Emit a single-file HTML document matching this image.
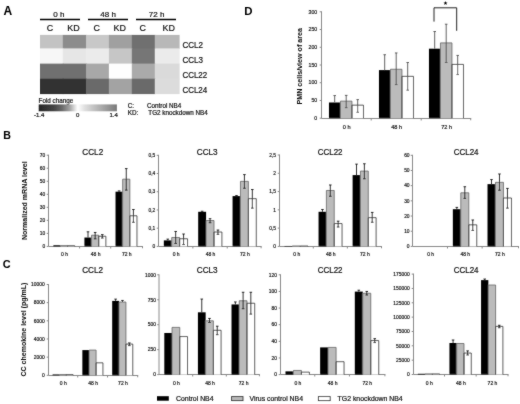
<!DOCTYPE html>
<html><head><meta charset="utf-8"><title>Figure</title>
<style>html,body{margin:0;padding:0;background:#fff;width:520px;height:404px;overflow:hidden;font-family:"Liberation Sans", sans-serif;}</style>
</head><body><div id="wrap" style="position:absolute;left:0;top:0;width:520px;height:404px;filter:grayscale(1)">
<svg width="520" height="404" viewBox="0 0 520 404" style="display:block" font-family='"Liberation Sans", sans-serif'>
<defs><filter id="bl" x="0" y="0" width="520" height="404" filterUnits="userSpaceOnUse"><feConvolveMatrix order="3" kernelMatrix="0.0250 0.0500 0.0250 0.0500 0.7000 0.0500 0.0250 0.0500 0.0250" divisor="1" edgeMode="duplicate" preserveAlpha="false"/></filter></defs>
<rect width="520" height="404" fill="#fff"/>
<g filter="url(#bl)">
<rect x="40.00" y="34.90" width="23.40" height="14.10" fill="#c3c3c3"/>
<rect x="62.80" y="34.90" width="23.90" height="14.10" fill="#8c8c8c"/>
<rect x="86.10" y="34.90" width="23.40" height="14.10" fill="#c8c8c8"/>
<rect x="108.90" y="34.90" width="23.50" height="14.10" fill="#a0a0a0"/>
<rect x="131.80" y="34.90" width="23.60" height="14.10" fill="#707070"/>
<rect x="154.80" y="34.90" width="24.80" height="14.10" fill="#b8b8b8"/>
<rect x="40.00" y="48.40" width="23.40" height="15.80" fill="#f7f7f7"/>
<rect x="62.80" y="48.40" width="23.90" height="15.80" fill="#e6e6e6"/>
<rect x="86.10" y="48.40" width="23.40" height="15.80" fill="#ebebeb"/>
<rect x="108.90" y="48.40" width="23.50" height="15.80" fill="#c6c6c6"/>
<rect x="131.80" y="48.40" width="23.60" height="15.80" fill="#767676"/>
<rect x="154.80" y="48.40" width="24.80" height="15.80" fill="#ebebeb"/>
<rect x="40.00" y="63.60" width="23.40" height="15.70" fill="#707070"/>
<rect x="62.80" y="63.60" width="23.90" height="15.70" fill="#707070"/>
<rect x="86.10" y="63.60" width="23.40" height="15.70" fill="#a8a8a8"/>
<rect x="108.90" y="63.60" width="23.50" height="15.70" fill="#fefefe"/>
<rect x="131.80" y="63.60" width="23.60" height="15.70" fill="#aaaaaa"/>
<rect x="154.80" y="63.60" width="24.80" height="15.70" fill="#dadada"/>
<rect x="40.00" y="78.70" width="23.40" height="15.40" fill="#333333"/>
<rect x="62.80" y="78.70" width="23.90" height="15.40" fill="#333333"/>
<rect x="86.10" y="78.70" width="23.40" height="15.40" fill="#6a6a6a"/>
<rect x="108.90" y="78.70" width="23.50" height="15.40" fill="#a3a3a3"/>
<rect x="131.80" y="78.70" width="23.60" height="15.40" fill="#6a6a6a"/>
<rect x="154.80" y="78.70" width="24.80" height="15.40" fill="#dcdcdc"/>
<line x1="40.00" y1="19.50" x2="80.00" y2="19.50" stroke="#000" stroke-width="1.4"/>
<line x1="88.00" y1="19.50" x2="128.00" y2="19.50" stroke="#000" stroke-width="1.4"/>
<line x1="136.00" y1="19.50" x2="176.00" y2="19.50" stroke="#000" stroke-width="1.4"/>
<text x="58.85" y="16.50" font-size="8.0" text-anchor="middle" font-weight="normal" fill="#111" stroke="#111" stroke-width="0.2" >0 h</text>
<text x="108.10" y="16.50" font-size="8.0" text-anchor="middle" font-weight="normal" fill="#111" stroke="#111" stroke-width="0.2" >48 h</text>
<text x="156.65" y="16.50" font-size="8.0" text-anchor="middle" font-weight="normal" fill="#111" stroke="#111" stroke-width="0.2" >72 h</text>
<text x="50.00" y="31.40" font-size="8.9" text-anchor="middle" font-weight="normal" fill="#111" stroke="#111" stroke-width="0.2" >C</text>
<text x="73.50" y="31.40" font-size="8.9" text-anchor="middle" font-weight="normal" fill="#111" stroke="#111" stroke-width="0.2" >KD</text>
<text x="96.60" y="31.40" font-size="8.9" text-anchor="middle" font-weight="normal" fill="#111" stroke="#111" stroke-width="0.2" >C</text>
<text x="119.70" y="31.40" font-size="8.9" text-anchor="middle" font-weight="normal" fill="#111" stroke="#111" stroke-width="0.2" >KD</text>
<text x="142.75" y="31.40" font-size="8.9" text-anchor="middle" font-weight="normal" fill="#111" stroke="#111" stroke-width="0.2" >C</text>
<text x="168.65" y="31.40" font-size="8.9" text-anchor="middle" font-weight="normal" fill="#111" stroke="#111" stroke-width="0.2" >KD</text>
<text x="182.40" y="47.80" font-size="8.3" text-anchor="start" font-weight="normal" fill="#111" stroke="#111" stroke-width="0.2" textLength="20.6" lengthAdjust="spacingAndGlyphs">CCL2</text>
<text x="182.40" y="62.80" font-size="8.3" text-anchor="start" font-weight="normal" fill="#111" stroke="#111" stroke-width="0.2" textLength="20.6" lengthAdjust="spacingAndGlyphs">CCL3</text>
<text x="182.40" y="77.90" font-size="8.3" text-anchor="start" font-weight="normal" fill="#111" stroke="#111" stroke-width="0.2" textLength="24.8" lengthAdjust="spacingAndGlyphs">CCL22</text>
<text x="182.40" y="92.80" font-size="8.3" text-anchor="start" font-weight="normal" fill="#111" stroke="#111" stroke-width="0.2" textLength="24.8" lengthAdjust="spacingAndGlyphs">CCL24</text>
<text x="38.60" y="102.70" font-size="6.3" text-anchor="start" font-weight="normal" fill="#111" stroke="#111" stroke-width="0.2" >Fold change</text>
<defs><linearGradient id="fc" x1="0" x2="1" y1="0" y2="0"><stop offset="0" stop-color="#262626"/><stop offset="0.2" stop-color="#454545"/><stop offset="0.3" stop-color="#6a6a6a"/><stop offset="0.4" stop-color="#a5a5a5"/><stop offset="0.47" stop-color="#e6e6e6"/><stop offset="0.5" stop-color="#ffffff"/><stop offset="0.58" stop-color="#e2e2e2"/><stop offset="0.68" stop-color="#c8c8c8"/><stop offset="0.78" stop-color="#b0b0b0"/><stop offset="0.88" stop-color="#989898"/><stop offset="1" stop-color="#7a7a7a"/></linearGradient></defs>
<rect x="38.7" y="104.4" width="78.2" height="6.9" fill="url(#fc)"/>
<text x="39.20" y="117.40" font-size="6.0" text-anchor="middle" font-weight="normal" fill="#111" stroke="#111" stroke-width="0.2" >-1.4</text>
<text x="77.70" y="117.40" font-size="6.0" text-anchor="middle" font-weight="normal" fill="#111" stroke="#111" stroke-width="0.2" >0</text>
<text x="113.70" y="117.40" font-size="6.0" text-anchor="middle" font-weight="normal" fill="#111" stroke="#111" stroke-width="0.2" >1.4</text>
<text x="127.80" y="107.60" font-size="6.3" text-anchor="start" font-weight="normal" fill="#111" stroke="#111" stroke-width="0.2" >C:</text>
<text x="127.80" y="114.60" font-size="6.3" text-anchor="start" font-weight="normal" fill="#111" stroke="#111" stroke-width="0.2" >KD:</text>
<text x="147.00" y="107.60" font-size="6.3" text-anchor="start" font-weight="normal" fill="#111" stroke="#111" stroke-width="0.2" >Control NB4</text>
<text x="148.30" y="114.60" font-size="6.3" text-anchor="start" font-weight="normal" fill="#111" stroke="#111" stroke-width="0.2" >TG2 knockdown NB4</text>
<text x="3.60" y="14.60" font-size="12.0" text-anchor="start" font-weight="bold" fill="#000" stroke="#000" stroke-width="0.05" >A</text>
<text x="244.20" y="15.00" font-size="11.4" text-anchor="start" font-weight="bold" fill="#000" stroke="#000" stroke-width="0.05" >D</text>
<text x="3.20" y="138.70" font-size="10.6" text-anchor="start" font-weight="bold" fill="#000" stroke="#000" stroke-width="0.05" >B</text>
<text x="2.70" y="268.20" font-size="10.9" text-anchor="start" font-weight="bold" fill="#000" stroke="#000" stroke-width="0.05" >C</text>
<text x="92.75" y="154.80" font-size="8.4" text-anchor="middle" font-weight="normal" fill="#111" stroke="#111" stroke-width="0.2" textLength="20.9" lengthAdjust="spacingAndGlyphs">CCL2</text>
<text x="207.20" y="154.80" font-size="8.4" text-anchor="middle" font-weight="normal" fill="#111" stroke="#111" stroke-width="0.2" textLength="20.9" lengthAdjust="spacingAndGlyphs">CCL3</text>
<text x="330.10" y="154.80" font-size="8.4" text-anchor="middle" font-weight="normal" fill="#111" stroke="#111" stroke-width="0.2" textLength="24.9" lengthAdjust="spacingAndGlyphs">CCL22</text>
<text x="466.10" y="154.80" font-size="8.4" text-anchor="middle" font-weight="normal" fill="#111" stroke="#111" stroke-width="0.2" textLength="24.9" lengthAdjust="spacingAndGlyphs">CCL24</text>
<text x="92.60" y="272.60" font-size="8.4" text-anchor="middle" font-weight="normal" fill="#111" stroke="#111" stroke-width="0.2" textLength="20.9" lengthAdjust="spacingAndGlyphs">CCL2</text>
<text x="207.20" y="272.60" font-size="8.4" text-anchor="middle" font-weight="normal" fill="#111" stroke="#111" stroke-width="0.2" textLength="20.9" lengthAdjust="spacingAndGlyphs">CCL3</text>
<text x="330.10" y="272.60" font-size="8.4" text-anchor="middle" font-weight="normal" fill="#111" stroke="#111" stroke-width="0.2" textLength="24.9" lengthAdjust="spacingAndGlyphs">CCL22</text>
<text x="466.10" y="272.60" font-size="8.4" text-anchor="middle" font-weight="normal" fill="#111" stroke="#111" stroke-width="0.2" textLength="24.9" lengthAdjust="spacingAndGlyphs">CCL24</text>
<line x1="48.50" y1="154.70" x2="48.50" y2="246.50" stroke="#8a8a8a" stroke-width="1"/>
<line x1="48.50" y1="246.50" x2="143.00" y2="246.50" stroke="#8a8a8a" stroke-width="1"/>
<line x1="46.70" y1="246.40" x2="48.50" y2="246.40" stroke="#8a8a8a" stroke-width="1"/>
<text x="45.30" y="248.15" font-size="4.9" text-anchor="end" font-weight="normal" fill="#222" stroke="#222" stroke-width="0.2" >0</text>
<line x1="46.70" y1="233.37" x2="48.50" y2="233.37" stroke="#8a8a8a" stroke-width="1"/>
<text x="45.30" y="235.12" font-size="4.9" text-anchor="end" font-weight="normal" fill="#222" stroke="#222" stroke-width="0.2" >10</text>
<line x1="46.70" y1="220.34" x2="48.50" y2="220.34" stroke="#8a8a8a" stroke-width="1"/>
<text x="45.30" y="222.09" font-size="4.9" text-anchor="end" font-weight="normal" fill="#222" stroke="#222" stroke-width="0.2" >20</text>
<line x1="46.70" y1="207.31" x2="48.50" y2="207.31" stroke="#8a8a8a" stroke-width="1"/>
<text x="45.30" y="209.06" font-size="4.9" text-anchor="end" font-weight="normal" fill="#222" stroke="#222" stroke-width="0.2" >30</text>
<line x1="46.70" y1="194.29" x2="48.50" y2="194.29" stroke="#8a8a8a" stroke-width="1"/>
<text x="45.30" y="196.04" font-size="4.9" text-anchor="end" font-weight="normal" fill="#222" stroke="#222" stroke-width="0.2" >40</text>
<line x1="46.70" y1="181.26" x2="48.50" y2="181.26" stroke="#8a8a8a" stroke-width="1"/>
<text x="45.30" y="183.01" font-size="4.9" text-anchor="end" font-weight="normal" fill="#222" stroke="#222" stroke-width="0.2" >50</text>
<line x1="46.70" y1="168.23" x2="48.50" y2="168.23" stroke="#8a8a8a" stroke-width="1"/>
<text x="45.30" y="169.98" font-size="4.9" text-anchor="end" font-weight="normal" fill="#222" stroke="#222" stroke-width="0.2" >60</text>
<line x1="46.70" y1="155.20" x2="48.50" y2="155.20" stroke="#8a8a8a" stroke-width="1"/>
<text x="45.30" y="156.95" font-size="4.9" text-anchor="end" font-weight="normal" fill="#222" stroke="#222" stroke-width="0.2" >70</text>
<line x1="79.60" y1="246.50" x2="79.60" y2="248.50" stroke="#8a8a8a" stroke-width="1"/>
<line x1="110.70" y1="246.50" x2="110.70" y2="248.50" stroke="#8a8a8a" stroke-width="1"/>
<line x1="142.50" y1="246.50" x2="142.50" y2="248.30" stroke="#8a8a8a" stroke-width="1"/>
<text x="64.55" y="255.90" font-size="5.0" text-anchor="middle" font-weight="normal" fill="#222" stroke="#222" stroke-width="0.2" >0 h</text>
<rect x="53.32" y="245.23" width="7.15" height="1.17" fill="#000"/>
<rect x="60.47" y="245.62" width="7.15" height="0.78" fill="#bbbbbb"/>
<rect x="67.63" y="245.75" width="7.15" height="0.65" fill="#fff"/>
<path d="M60.47,246.40V245.62H67.63V246.40" fill="none" stroke="#6a6a6a" stroke-width="0.85"/>
<path d="M67.63,246.40V245.75H74.78V246.40" fill="none" stroke="#333" stroke-width="0.85"/>
<text x="95.65" y="255.90" font-size="5.0" text-anchor="middle" font-weight="normal" fill="#222" stroke="#222" stroke-width="0.2" >48 h</text>
<rect x="84.42" y="237.54" width="7.15" height="8.86" fill="#000"/>
<rect x="91.57" y="235.20" width="7.15" height="11.20" fill="#bbbbbb"/>
<rect x="98.73" y="236.24" width="7.15" height="10.16" fill="#fff"/>
<path d="M91.57,246.40V235.20H98.73V246.40" fill="none" stroke="#6a6a6a" stroke-width="0.85"/>
<path d="M98.73,246.40V236.24H105.88V246.40" fill="none" stroke="#333" stroke-width="0.85"/>
<line x1="88.00" y1="231.81" x2="88.00" y2="237.54" stroke="#000" stroke-width="0.8"/>
<line x1="86.70" y1="231.81" x2="89.30" y2="231.81" stroke="#000" stroke-width="0.8"/>
<line x1="95.15" y1="232.46" x2="95.15" y2="238.84" stroke="#000" stroke-width="0.8"/>
<line x1="93.85" y1="232.46" x2="96.45" y2="232.46" stroke="#000" stroke-width="0.8"/>
<line x1="93.85" y1="238.84" x2="96.45" y2="238.84" stroke="#000" stroke-width="0.8"/>
<line x1="102.30" y1="234.67" x2="102.30" y2="238.06" stroke="#000" stroke-width="0.8"/>
<line x1="101.00" y1="234.67" x2="103.60" y2="234.67" stroke="#000" stroke-width="0.8"/>
<line x1="101.00" y1="238.06" x2="103.60" y2="238.06" stroke="#000" stroke-width="0.8"/>
<text x="126.75" y="255.90" font-size="5.0" text-anchor="middle" font-weight="normal" fill="#222" stroke="#222" stroke-width="0.2" >72 h</text>
<rect x="115.52" y="191.68" width="7.15" height="54.72" fill="#000"/>
<rect x="122.67" y="179.17" width="7.15" height="67.23" fill="#bbbbbb"/>
<rect x="129.83" y="215.78" width="7.15" height="30.62" fill="#fff"/>
<path d="M122.67,246.40V179.17H129.83V246.40" fill="none" stroke="#6a6a6a" stroke-width="0.85"/>
<path d="M129.83,246.40V215.78H136.98V246.40" fill="none" stroke="#333" stroke-width="0.85"/>
<line x1="119.10" y1="190.90" x2="119.10" y2="191.68" stroke="#000" stroke-width="0.8"/>
<line x1="117.80" y1="190.90" x2="120.40" y2="190.90" stroke="#000" stroke-width="0.8"/>
<line x1="126.25" y1="168.62" x2="126.25" y2="190.12" stroke="#000" stroke-width="0.8"/>
<line x1="124.95" y1="168.62" x2="127.55" y2="168.62" stroke="#000" stroke-width="0.8"/>
<line x1="124.95" y1="190.12" x2="127.55" y2="190.12" stroke="#000" stroke-width="0.8"/>
<line x1="133.40" y1="209.53" x2="133.40" y2="222.30" stroke="#000" stroke-width="0.8"/>
<line x1="132.10" y1="209.53" x2="134.70" y2="209.53" stroke="#000" stroke-width="0.8"/>
<line x1="132.10" y1="222.30" x2="134.70" y2="222.30" stroke="#000" stroke-width="0.8"/>
<line x1="158.50" y1="154.80" x2="158.50" y2="246.50" stroke="#8a8a8a" stroke-width="1"/>
<line x1="158.50" y1="246.50" x2="261.60" y2="246.50" stroke="#8a8a8a" stroke-width="1"/>
<line x1="156.70" y1="246.40" x2="158.50" y2="246.40" stroke="#8a8a8a" stroke-width="1"/>
<text x="155.30" y="248.15" font-size="4.9" text-anchor="end" font-weight="normal" fill="#222" stroke="#222" stroke-width="0.2" >0</text>
<line x1="156.70" y1="228.18" x2="158.50" y2="228.18" stroke="#8a8a8a" stroke-width="1"/>
<text x="155.30" y="229.93" font-size="4.9" text-anchor="end" font-weight="normal" fill="#222" stroke="#222" stroke-width="0.2" >0,1</text>
<line x1="156.70" y1="209.96" x2="158.50" y2="209.96" stroke="#8a8a8a" stroke-width="1"/>
<text x="155.30" y="211.71" font-size="4.9" text-anchor="end" font-weight="normal" fill="#222" stroke="#222" stroke-width="0.2" >0,2</text>
<line x1="156.70" y1="191.74" x2="158.50" y2="191.74" stroke="#8a8a8a" stroke-width="1"/>
<text x="155.30" y="193.49" font-size="4.9" text-anchor="end" font-weight="normal" fill="#222" stroke="#222" stroke-width="0.2" >0,3</text>
<line x1="156.70" y1="173.52" x2="158.50" y2="173.52" stroke="#8a8a8a" stroke-width="1"/>
<text x="155.30" y="175.27" font-size="4.9" text-anchor="end" font-weight="normal" fill="#222" stroke="#222" stroke-width="0.2" >0,4</text>
<line x1="156.70" y1="155.30" x2="158.50" y2="155.30" stroke="#8a8a8a" stroke-width="1"/>
<text x="155.30" y="157.05" font-size="4.9" text-anchor="end" font-weight="normal" fill="#222" stroke="#222" stroke-width="0.2" >0,5</text>
<line x1="192.87" y1="246.50" x2="192.87" y2="248.50" stroke="#8a8a8a" stroke-width="1"/>
<line x1="227.23" y1="246.50" x2="227.23" y2="248.50" stroke="#8a8a8a" stroke-width="1"/>
<line x1="261.10" y1="246.50" x2="261.10" y2="248.30" stroke="#8a8a8a" stroke-width="1"/>
<text x="176.18" y="255.90" font-size="5.0" text-anchor="middle" font-weight="normal" fill="#222" stroke="#222" stroke-width="0.2" >0 h</text>
<rect x="163.83" y="240.39" width="7.90" height="6.01" fill="#000"/>
<rect x="171.73" y="237.47" width="7.90" height="8.93" fill="#bbbbbb"/>
<rect x="179.64" y="238.75" width="7.90" height="7.65" fill="#fff"/>
<path d="M171.73,246.40V237.47H179.64V246.40" fill="none" stroke="#6a6a6a" stroke-width="0.85"/>
<path d="M179.64,246.40V238.75H187.54V246.40" fill="none" stroke="#333" stroke-width="0.85"/>
<line x1="167.78" y1="239.11" x2="167.78" y2="240.39" stroke="#000" stroke-width="0.8"/>
<line x1="166.48" y1="239.11" x2="169.08" y2="239.11" stroke="#000" stroke-width="0.8"/>
<line x1="175.68" y1="231.46" x2="175.68" y2="243.48" stroke="#000" stroke-width="0.8"/>
<line x1="174.38" y1="231.46" x2="176.98" y2="231.46" stroke="#000" stroke-width="0.8"/>
<line x1="174.38" y1="243.48" x2="176.98" y2="243.48" stroke="#000" stroke-width="0.8"/>
<line x1="183.59" y1="234.01" x2="183.59" y2="244.58" stroke="#000" stroke-width="0.8"/>
<line x1="182.29" y1="234.01" x2="184.89" y2="234.01" stroke="#000" stroke-width="0.8"/>
<line x1="182.29" y1="244.58" x2="184.89" y2="244.58" stroke="#000" stroke-width="0.8"/>
<text x="210.55" y="255.90" font-size="5.0" text-anchor="middle" font-weight="normal" fill="#222" stroke="#222" stroke-width="0.2" >48 h</text>
<rect x="198.19" y="211.78" width="7.90" height="34.62" fill="#000"/>
<rect x="206.10" y="220.53" width="7.90" height="25.87" fill="#bbbbbb"/>
<rect x="214.00" y="232.01" width="7.90" height="14.39" fill="#fff"/>
<path d="M206.10,246.40V220.53H214.00V246.40" fill="none" stroke="#6a6a6a" stroke-width="0.85"/>
<path d="M214.00,246.40V232.01H221.91V246.40" fill="none" stroke="#333" stroke-width="0.85"/>
<line x1="202.15" y1="211.24" x2="202.15" y2="211.78" stroke="#000" stroke-width="0.8"/>
<line x1="200.85" y1="211.24" x2="203.45" y2="211.24" stroke="#000" stroke-width="0.8"/>
<line x1="210.05" y1="218.71" x2="210.05" y2="222.71" stroke="#000" stroke-width="0.8"/>
<line x1="208.75" y1="218.71" x2="211.35" y2="218.71" stroke="#000" stroke-width="0.8"/>
<line x1="208.75" y1="222.71" x2="211.35" y2="222.71" stroke="#000" stroke-width="0.8"/>
<line x1="217.95" y1="230.00" x2="217.95" y2="234.37" stroke="#000" stroke-width="0.8"/>
<line x1="216.65" y1="230.00" x2="219.25" y2="230.00" stroke="#000" stroke-width="0.8"/>
<line x1="216.65" y1="234.37" x2="219.25" y2="234.37" stroke="#000" stroke-width="0.8"/>
<text x="244.92" y="255.90" font-size="5.0" text-anchor="middle" font-weight="normal" fill="#222" stroke="#222" stroke-width="0.2" >72 h</text>
<rect x="232.56" y="196.11" width="7.90" height="50.29" fill="#000"/>
<rect x="240.46" y="181.35" width="7.90" height="65.05" fill="#bbbbbb"/>
<rect x="248.37" y="198.66" width="7.90" height="47.74" fill="#fff"/>
<path d="M240.46,246.40V181.35H248.37V246.40" fill="none" stroke="#6a6a6a" stroke-width="0.85"/>
<path d="M248.37,246.40V198.66H256.27V246.40" fill="none" stroke="#333" stroke-width="0.85"/>
<line x1="236.51" y1="195.57" x2="236.51" y2="196.11" stroke="#000" stroke-width="0.8"/>
<line x1="235.21" y1="195.57" x2="237.81" y2="195.57" stroke="#000" stroke-width="0.8"/>
<line x1="244.42" y1="174.61" x2="244.42" y2="188.28" stroke="#000" stroke-width="0.8"/>
<line x1="243.12" y1="174.61" x2="245.72" y2="174.61" stroke="#000" stroke-width="0.8"/>
<line x1="243.12" y1="188.28" x2="245.72" y2="188.28" stroke="#000" stroke-width="0.8"/>
<line x1="252.32" y1="189.55" x2="252.32" y2="208.14" stroke="#000" stroke-width="0.8"/>
<line x1="251.02" y1="189.55" x2="253.62" y2="189.55" stroke="#000" stroke-width="0.8"/>
<line x1="251.02" y1="208.14" x2="253.62" y2="208.14" stroke="#000" stroke-width="0.8"/>
<line x1="279.50" y1="154.50" x2="279.50" y2="246.50" stroke="#8a8a8a" stroke-width="1"/>
<line x1="279.50" y1="246.50" x2="382.00" y2="246.50" stroke="#8a8a8a" stroke-width="1"/>
<line x1="277.70" y1="246.40" x2="279.50" y2="246.40" stroke="#8a8a8a" stroke-width="1"/>
<text x="276.00" y="248.15" font-size="4.9" text-anchor="end" font-weight="normal" fill="#222" stroke="#222" stroke-width="0.2" >0</text>
<line x1="277.70" y1="228.12" x2="279.50" y2="228.12" stroke="#8a8a8a" stroke-width="1"/>
<text x="276.00" y="229.87" font-size="4.9" text-anchor="end" font-weight="normal" fill="#222" stroke="#222" stroke-width="0.2" >0,5</text>
<line x1="277.70" y1="209.84" x2="279.50" y2="209.84" stroke="#8a8a8a" stroke-width="1"/>
<text x="276.00" y="211.59" font-size="4.9" text-anchor="end" font-weight="normal" fill="#222" stroke="#222" stroke-width="0.2" >1</text>
<line x1="277.70" y1="191.56" x2="279.50" y2="191.56" stroke="#8a8a8a" stroke-width="1"/>
<text x="276.00" y="193.31" font-size="4.9" text-anchor="end" font-weight="normal" fill="#222" stroke="#222" stroke-width="0.2" >1,5</text>
<line x1="277.70" y1="173.28" x2="279.50" y2="173.28" stroke="#8a8a8a" stroke-width="1"/>
<text x="276.00" y="175.03" font-size="4.9" text-anchor="end" font-weight="normal" fill="#222" stroke="#222" stroke-width="0.2" >2</text>
<line x1="277.70" y1="155.00" x2="279.50" y2="155.00" stroke="#8a8a8a" stroke-width="1"/>
<text x="276.00" y="156.75" font-size="4.9" text-anchor="end" font-weight="normal" fill="#222" stroke="#222" stroke-width="0.2" >2,5</text>
<line x1="313.27" y1="246.50" x2="313.27" y2="248.50" stroke="#8a8a8a" stroke-width="1"/>
<line x1="347.33" y1="246.50" x2="347.33" y2="248.50" stroke="#8a8a8a" stroke-width="1"/>
<line x1="381.50" y1="246.50" x2="381.50" y2="248.30" stroke="#8a8a8a" stroke-width="1"/>
<text x="296.73" y="255.90" font-size="5.0" text-anchor="middle" font-weight="normal" fill="#222" stroke="#222" stroke-width="0.2" >0 h</text>
<rect x="284.48" y="245.96" width="7.84" height="0.44" fill="#000"/>
<rect x="292.32" y="245.96" width="7.84" height="0.44" fill="#bbbbbb"/>
<rect x="300.15" y="246.03" width="7.84" height="0.37" fill="#fff"/>
<path d="M292.32,246.40V245.96H300.15V246.40" fill="none" stroke="#6a6a6a" stroke-width="0.85"/>
<path d="M300.15,246.40V246.03H307.99V246.40" fill="none" stroke="#333" stroke-width="0.85"/>
<text x="330.80" y="255.90" font-size="5.0" text-anchor="middle" font-weight="normal" fill="#222" stroke="#222" stroke-width="0.2" >48 h</text>
<rect x="318.55" y="211.78" width="7.84" height="34.62" fill="#000"/>
<rect x="326.38" y="190.46" width="7.84" height="55.94" fill="#bbbbbb"/>
<rect x="334.22" y="223.59" width="7.84" height="22.81" fill="#fff"/>
<path d="M326.38,246.40V190.46H334.22V246.40" fill="none" stroke="#6a6a6a" stroke-width="0.85"/>
<path d="M334.22,246.40V223.59H342.05V246.40" fill="none" stroke="#333" stroke-width="0.85"/>
<line x1="322.46" y1="209.47" x2="322.46" y2="211.78" stroke="#000" stroke-width="0.8"/>
<line x1="321.16" y1="209.47" x2="323.76" y2="209.47" stroke="#000" stroke-width="0.8"/>
<line x1="330.30" y1="184.98" x2="330.30" y2="196.31" stroke="#000" stroke-width="0.8"/>
<line x1="329.00" y1="184.98" x2="331.60" y2="184.98" stroke="#000" stroke-width="0.8"/>
<line x1="329.00" y1="196.31" x2="331.60" y2="196.31" stroke="#000" stroke-width="0.8"/>
<line x1="338.14" y1="221.17" x2="338.14" y2="227.02" stroke="#000" stroke-width="0.8"/>
<line x1="336.84" y1="221.17" x2="339.44" y2="221.17" stroke="#000" stroke-width="0.8"/>
<line x1="336.84" y1="227.02" x2="339.44" y2="227.02" stroke="#000" stroke-width="0.8"/>
<text x="364.87" y="255.90" font-size="5.0" text-anchor="middle" font-weight="normal" fill="#222" stroke="#222" stroke-width="0.2" >72 h</text>
<rect x="352.61" y="175.11" width="7.84" height="71.29" fill="#000"/>
<rect x="360.45" y="171.09" width="7.84" height="75.31" fill="#bbbbbb"/>
<rect x="368.28" y="217.66" width="7.84" height="28.74" fill="#fff"/>
<path d="M360.45,246.40V171.09H368.28V246.40" fill="none" stroke="#6a6a6a" stroke-width="0.85"/>
<path d="M368.28,246.40V217.66H376.12V246.40" fill="none" stroke="#333" stroke-width="0.85"/>
<line x1="356.53" y1="164.14" x2="356.53" y2="175.11" stroke="#000" stroke-width="0.8"/>
<line x1="355.23" y1="164.14" x2="357.83" y2="164.14" stroke="#000" stroke-width="0.8"/>
<line x1="364.37" y1="163.77" x2="364.37" y2="178.76" stroke="#000" stroke-width="0.8"/>
<line x1="363.07" y1="163.77" x2="365.67" y2="163.77" stroke="#000" stroke-width="0.8"/>
<line x1="363.07" y1="178.76" x2="365.67" y2="178.76" stroke="#000" stroke-width="0.8"/>
<line x1="372.20" y1="212.40" x2="372.20" y2="222.27" stroke="#000" stroke-width="0.8"/>
<line x1="370.90" y1="212.40" x2="373.50" y2="212.40" stroke="#000" stroke-width="0.8"/>
<line x1="370.90" y1="222.27" x2="373.50" y2="222.27" stroke="#000" stroke-width="0.8"/>
<line x1="412.50" y1="154.80" x2="412.50" y2="246.50" stroke="#8a8a8a" stroke-width="1"/>
<line x1="412.50" y1="246.50" x2="519.00" y2="246.50" stroke="#8a8a8a" stroke-width="1"/>
<line x1="410.70" y1="246.40" x2="412.50" y2="246.40" stroke="#8a8a8a" stroke-width="1"/>
<text x="409.60" y="248.15" font-size="4.9" text-anchor="end" font-weight="normal" fill="#222" stroke="#222" stroke-width="0.2" >0</text>
<line x1="410.70" y1="231.22" x2="412.50" y2="231.22" stroke="#8a8a8a" stroke-width="1"/>
<text x="409.60" y="232.97" font-size="4.9" text-anchor="end" font-weight="normal" fill="#222" stroke="#222" stroke-width="0.2" >10</text>
<line x1="410.70" y1="216.03" x2="412.50" y2="216.03" stroke="#8a8a8a" stroke-width="1"/>
<text x="409.60" y="217.78" font-size="4.9" text-anchor="end" font-weight="normal" fill="#222" stroke="#222" stroke-width="0.2" >20</text>
<line x1="410.70" y1="200.85" x2="412.50" y2="200.85" stroke="#8a8a8a" stroke-width="1"/>
<text x="409.60" y="202.60" font-size="4.9" text-anchor="end" font-weight="normal" fill="#222" stroke="#222" stroke-width="0.2" >30</text>
<line x1="410.70" y1="185.67" x2="412.50" y2="185.67" stroke="#8a8a8a" stroke-width="1"/>
<text x="409.60" y="187.42" font-size="4.9" text-anchor="end" font-weight="normal" fill="#222" stroke="#222" stroke-width="0.2" >40</text>
<line x1="410.70" y1="170.48" x2="412.50" y2="170.48" stroke="#8a8a8a" stroke-width="1"/>
<text x="409.60" y="172.23" font-size="4.9" text-anchor="end" font-weight="normal" fill="#222" stroke="#222" stroke-width="0.2" >50</text>
<line x1="410.70" y1="155.30" x2="412.50" y2="155.30" stroke="#8a8a8a" stroke-width="1"/>
<text x="409.60" y="157.05" font-size="4.9" text-anchor="end" font-weight="normal" fill="#222" stroke="#222" stroke-width="0.2" >60</text>
<line x1="447.47" y1="246.50" x2="447.47" y2="248.50" stroke="#8a8a8a" stroke-width="1"/>
<line x1="482.13" y1="246.50" x2="482.13" y2="248.50" stroke="#8a8a8a" stroke-width="1"/>
<line x1="518.50" y1="246.50" x2="518.50" y2="248.30" stroke="#8a8a8a" stroke-width="1"/>
<text x="430.63" y="255.90" font-size="5.0" text-anchor="middle" font-weight="normal" fill="#222" stroke="#222" stroke-width="0.2" >0 h</text>
<rect x="418.17" y="246.40" width="7.97" height="0.00" fill="#000"/>
<rect x="426.15" y="246.40" width="7.97" height="0.00" fill="#bbbbbb"/>
<rect x="434.12" y="246.40" width="7.97" height="0.00" fill="#fff"/>
<text x="465.30" y="255.90" font-size="5.0" text-anchor="middle" font-weight="normal" fill="#222" stroke="#222" stroke-width="0.2" >48 h</text>
<rect x="452.84" y="209.20" width="7.97" height="37.20" fill="#000"/>
<rect x="460.81" y="192.80" width="7.97" height="53.60" fill="#bbbbbb"/>
<rect x="468.79" y="224.84" width="7.97" height="21.56" fill="#fff"/>
<path d="M460.81,246.40V192.80H468.79V246.40" fill="none" stroke="#6a6a6a" stroke-width="0.85"/>
<path d="M468.79,246.40V224.84H476.76V246.40" fill="none" stroke="#333" stroke-width="0.85"/>
<line x1="456.83" y1="207.38" x2="456.83" y2="209.20" stroke="#000" stroke-width="0.8"/>
<line x1="455.53" y1="207.38" x2="458.13" y2="207.38" stroke="#000" stroke-width="0.8"/>
<line x1="464.80" y1="186.73" x2="464.80" y2="198.42" stroke="#000" stroke-width="0.8"/>
<line x1="463.50" y1="186.73" x2="466.10" y2="186.73" stroke="#000" stroke-width="0.8"/>
<line x1="463.50" y1="198.42" x2="466.10" y2="198.42" stroke="#000" stroke-width="0.8"/>
<line x1="472.77" y1="219.98" x2="472.77" y2="230.46" stroke="#000" stroke-width="0.8"/>
<line x1="471.47" y1="219.98" x2="474.07" y2="219.98" stroke="#000" stroke-width="0.8"/>
<line x1="471.47" y1="230.46" x2="474.07" y2="230.46" stroke="#000" stroke-width="0.8"/>
<text x="499.97" y="255.90" font-size="5.0" text-anchor="middle" font-weight="normal" fill="#222" stroke="#222" stroke-width="0.2" >72 h</text>
<rect x="487.51" y="184.15" width="7.97" height="62.25" fill="#000"/>
<rect x="495.48" y="182.33" width="7.97" height="64.07" fill="#bbbbbb"/>
<rect x="503.45" y="197.97" width="7.97" height="48.43" fill="#fff"/>
<path d="M495.48,246.40V182.33H503.45V246.40" fill="none" stroke="#6a6a6a" stroke-width="0.85"/>
<path d="M503.45,246.40V197.97H511.43V246.40" fill="none" stroke="#333" stroke-width="0.85"/>
<line x1="491.49" y1="179.59" x2="491.49" y2="184.15" stroke="#000" stroke-width="0.8"/>
<line x1="490.19" y1="179.59" x2="492.79" y2="179.59" stroke="#000" stroke-width="0.8"/>
<line x1="499.47" y1="173.98" x2="499.47" y2="190.22" stroke="#000" stroke-width="0.8"/>
<line x1="498.17" y1="173.98" x2="500.77" y2="173.98" stroke="#000" stroke-width="0.8"/>
<line x1="498.17" y1="190.22" x2="500.77" y2="190.22" stroke="#000" stroke-width="0.8"/>
<line x1="507.44" y1="188.40" x2="507.44" y2="208.14" stroke="#000" stroke-width="0.8"/>
<line x1="506.14" y1="188.40" x2="508.74" y2="188.40" stroke="#000" stroke-width="0.8"/>
<line x1="506.14" y1="208.14" x2="508.74" y2="208.14" stroke="#000" stroke-width="0.8"/>
<line x1="48.50" y1="284.00" x2="48.50" y2="375.50" stroke="#8a8a8a" stroke-width="1"/>
<line x1="48.50" y1="375.50" x2="138.20" y2="375.50" stroke="#8a8a8a" stroke-width="1"/>
<line x1="46.70" y1="375.30" x2="48.50" y2="375.30" stroke="#8a8a8a" stroke-width="1"/>
<text x="44.70" y="377.05" font-size="4.9" text-anchor="end" font-weight="normal" fill="#222" stroke="#222" stroke-width="0.2" >0</text>
<line x1="46.70" y1="357.14" x2="48.50" y2="357.14" stroke="#8a8a8a" stroke-width="1"/>
<text x="44.70" y="358.89" font-size="4.9" text-anchor="end" font-weight="normal" fill="#222" stroke="#222" stroke-width="0.2" >2000</text>
<line x1="46.70" y1="338.98" x2="48.50" y2="338.98" stroke="#8a8a8a" stroke-width="1"/>
<text x="44.70" y="340.73" font-size="4.9" text-anchor="end" font-weight="normal" fill="#222" stroke="#222" stroke-width="0.2" >4000</text>
<line x1="46.70" y1="320.82" x2="48.50" y2="320.82" stroke="#8a8a8a" stroke-width="1"/>
<text x="44.70" y="322.57" font-size="4.9" text-anchor="end" font-weight="normal" fill="#222" stroke="#222" stroke-width="0.2" >6000</text>
<line x1="46.70" y1="302.66" x2="48.50" y2="302.66" stroke="#8a8a8a" stroke-width="1"/>
<text x="44.70" y="304.41" font-size="4.9" text-anchor="end" font-weight="normal" fill="#222" stroke="#222" stroke-width="0.2" >8000</text>
<line x1="46.70" y1="284.50" x2="48.50" y2="284.50" stroke="#8a8a8a" stroke-width="1"/>
<text x="44.70" y="286.25" font-size="4.9" text-anchor="end" font-weight="normal" fill="#222" stroke="#222" stroke-width="0.2" >10000</text>
<line x1="77.73" y1="375.50" x2="77.73" y2="377.50" stroke="#8a8a8a" stroke-width="1"/>
<line x1="107.57" y1="375.50" x2="107.57" y2="377.50" stroke="#8a8a8a" stroke-width="1"/>
<line x1="137.70" y1="375.50" x2="137.70" y2="377.30" stroke="#8a8a8a" stroke-width="1"/>
<text x="63.32" y="384.90" font-size="5.0" text-anchor="middle" font-weight="normal" fill="#222" stroke="#222" stroke-width="0.2" >0 h</text>
<rect x="52.52" y="374.39" width="6.86" height="0.91" fill="#000"/>
<rect x="59.39" y="374.57" width="6.86" height="0.73" fill="#bbbbbb"/>
<rect x="66.25" y="374.66" width="6.86" height="0.64" fill="#fff"/>
<path d="M59.39,375.30V374.57H66.25V375.30" fill="none" stroke="#6a6a6a" stroke-width="0.85"/>
<path d="M66.25,375.30V374.66H73.11V375.30" fill="none" stroke="#333" stroke-width="0.85"/>
<text x="93.15" y="384.90" font-size="5.0" text-anchor="middle" font-weight="normal" fill="#222" stroke="#222" stroke-width="0.2" >48 h</text>
<rect x="82.36" y="350.09" width="6.86" height="25.21" fill="#000"/>
<rect x="89.22" y="350.09" width="6.86" height="25.21" fill="#bbbbbb"/>
<rect x="96.08" y="362.84" width="6.86" height="12.46" fill="#fff"/>
<path d="M89.22,375.30V350.09H96.08V375.30" fill="none" stroke="#6a6a6a" stroke-width="0.85"/>
<path d="M96.08,375.30V362.84H102.94V375.30" fill="none" stroke="#333" stroke-width="0.85"/>
<text x="122.98" y="384.90" font-size="5.0" text-anchor="middle" font-weight="normal" fill="#222" stroke="#222" stroke-width="0.2" >72 h</text>
<rect x="112.19" y="300.90" width="6.86" height="74.40" fill="#000"/>
<rect x="119.05" y="302.02" width="6.86" height="73.28" fill="#bbbbbb"/>
<rect x="125.91" y="344.06" width="6.86" height="31.24" fill="#fff"/>
<path d="M119.05,375.30V302.02H125.91V375.30" fill="none" stroke="#6a6a6a" stroke-width="0.85"/>
<path d="M125.91,375.30V344.06H132.78V375.30" fill="none" stroke="#333" stroke-width="0.85"/>
<line x1="115.62" y1="299.11" x2="115.62" y2="300.90" stroke="#000" stroke-width="0.8"/>
<line x1="114.32" y1="299.11" x2="116.92" y2="299.11" stroke="#000" stroke-width="0.8"/>
<line x1="122.48" y1="300.44" x2="122.48" y2="302.02" stroke="#000" stroke-width="0.8"/>
<line x1="121.18" y1="300.44" x2="123.78" y2="300.44" stroke="#000" stroke-width="0.8"/>
<line x1="129.34" y1="342.94" x2="129.34" y2="345.63" stroke="#000" stroke-width="0.8"/>
<line x1="128.04" y1="342.94" x2="130.64" y2="342.94" stroke="#000" stroke-width="0.8"/>
<line x1="128.04" y1="345.63" x2="130.64" y2="345.63" stroke="#000" stroke-width="0.8"/>
<line x1="159.00" y1="274.30" x2="159.00" y2="374.50" stroke="#8a8a8a" stroke-width="1"/>
<line x1="159.00" y1="374.50" x2="259.90" y2="374.50" stroke="#8a8a8a" stroke-width="1"/>
<line x1="157.20" y1="374.60" x2="159.00" y2="374.60" stroke="#8a8a8a" stroke-width="1"/>
<text x="155.90" y="376.35" font-size="4.9" text-anchor="end" font-weight="normal" fill="#222" stroke="#222" stroke-width="0.2" >0</text>
<line x1="157.20" y1="349.65" x2="159.00" y2="349.65" stroke="#8a8a8a" stroke-width="1"/>
<text x="155.90" y="351.40" font-size="4.9" text-anchor="end" font-weight="normal" fill="#222" stroke="#222" stroke-width="0.2" >250</text>
<line x1="157.20" y1="324.70" x2="159.00" y2="324.70" stroke="#8a8a8a" stroke-width="1"/>
<text x="155.90" y="326.45" font-size="4.9" text-anchor="end" font-weight="normal" fill="#222" stroke="#222" stroke-width="0.2" >500</text>
<line x1="157.20" y1="299.75" x2="159.00" y2="299.75" stroke="#8a8a8a" stroke-width="1"/>
<text x="155.90" y="301.50" font-size="4.9" text-anchor="end" font-weight="normal" fill="#222" stroke="#222" stroke-width="0.2" >750</text>
<line x1="157.20" y1="274.80" x2="159.00" y2="274.80" stroke="#8a8a8a" stroke-width="1"/>
<text x="155.90" y="276.55" font-size="4.9" text-anchor="end" font-weight="normal" fill="#222" stroke="#222" stroke-width="0.2" >1000</text>
<line x1="192.70" y1="374.50" x2="192.70" y2="376.50" stroke="#8a8a8a" stroke-width="1"/>
<line x1="226.30" y1="374.50" x2="226.30" y2="376.50" stroke="#8a8a8a" stroke-width="1"/>
<line x1="259.40" y1="374.50" x2="259.40" y2="376.30" stroke="#8a8a8a" stroke-width="1"/>
<text x="176.40" y="385.10" font-size="5.0" text-anchor="middle" font-weight="normal" fill="#222" stroke="#222" stroke-width="0.2" >0 h</text>
<rect x="164.31" y="332.98" width="7.73" height="41.62" fill="#000"/>
<rect x="172.04" y="327.39" width="7.73" height="47.21" fill="#bbbbbb"/>
<rect x="179.76" y="336.58" width="7.73" height="38.02" fill="#fff"/>
<path d="M172.04,374.60V327.39H179.76V374.60" fill="none" stroke="#6a6a6a" stroke-width="0.85"/>
<path d="M179.76,374.60V336.58H187.49V374.60" fill="none" stroke="#333" stroke-width="0.85"/>
<text x="210.00" y="385.10" font-size="5.0" text-anchor="middle" font-weight="normal" fill="#222" stroke="#222" stroke-width="0.2" >48 h</text>
<rect x="197.91" y="312.32" width="7.73" height="62.28" fill="#000"/>
<rect x="205.64" y="320.81" width="7.73" height="53.79" fill="#bbbbbb"/>
<rect x="213.36" y="330.29" width="7.73" height="44.31" fill="#fff"/>
<path d="M205.64,374.60V320.81H213.36V374.60" fill="none" stroke="#6a6a6a" stroke-width="0.85"/>
<path d="M213.36,374.60V330.29H221.09V374.60" fill="none" stroke="#333" stroke-width="0.85"/>
<line x1="201.77" y1="299.05" x2="201.77" y2="312.32" stroke="#000" stroke-width="0.8"/>
<line x1="200.47" y1="299.05" x2="203.07" y2="299.05" stroke="#000" stroke-width="0.8"/>
<line x1="209.50" y1="318.41" x2="209.50" y2="322.50" stroke="#000" stroke-width="0.8"/>
<line x1="208.20" y1="318.41" x2="210.80" y2="318.41" stroke="#000" stroke-width="0.8"/>
<line x1="208.20" y1="322.50" x2="210.80" y2="322.50" stroke="#000" stroke-width="0.8"/>
<line x1="217.23" y1="326.20" x2="217.23" y2="334.68" stroke="#000" stroke-width="0.8"/>
<line x1="215.93" y1="326.20" x2="218.53" y2="326.20" stroke="#000" stroke-width="0.8"/>
<line x1="215.93" y1="334.68" x2="218.53" y2="334.68" stroke="#000" stroke-width="0.8"/>
<text x="243.60" y="385.10" font-size="5.0" text-anchor="middle" font-weight="normal" fill="#222" stroke="#222" stroke-width="0.2" >72 h</text>
<rect x="231.51" y="304.44" width="7.73" height="70.16" fill="#000"/>
<rect x="239.24" y="300.75" width="7.73" height="73.85" fill="#bbbbbb"/>
<rect x="246.96" y="303.24" width="7.73" height="71.36" fill="#fff"/>
<path d="M239.24,374.60V300.75H246.96V374.60" fill="none" stroke="#6a6a6a" stroke-width="0.85"/>
<path d="M246.96,374.60V303.24H254.69V374.60" fill="none" stroke="#333" stroke-width="0.85"/>
<line x1="235.37" y1="301.95" x2="235.37" y2="304.44" stroke="#000" stroke-width="0.8"/>
<line x1="234.07" y1="301.95" x2="236.67" y2="301.95" stroke="#000" stroke-width="0.8"/>
<line x1="243.10" y1="292.26" x2="243.10" y2="308.73" stroke="#000" stroke-width="0.8"/>
<line x1="241.80" y1="292.26" x2="244.40" y2="292.26" stroke="#000" stroke-width="0.8"/>
<line x1="241.80" y1="308.73" x2="244.40" y2="308.73" stroke="#000" stroke-width="0.8"/>
<line x1="250.83" y1="292.26" x2="250.83" y2="314.12" stroke="#000" stroke-width="0.8"/>
<line x1="249.53" y1="292.26" x2="252.13" y2="292.26" stroke="#000" stroke-width="0.8"/>
<line x1="249.53" y1="314.12" x2="252.13" y2="314.12" stroke="#000" stroke-width="0.8"/>
<line x1="280.50" y1="274.30" x2="280.50" y2="374.50" stroke="#8a8a8a" stroke-width="1"/>
<line x1="280.50" y1="374.50" x2="385.40" y2="374.50" stroke="#8a8a8a" stroke-width="1"/>
<line x1="278.70" y1="374.60" x2="280.50" y2="374.60" stroke="#8a8a8a" stroke-width="1"/>
<text x="276.90" y="376.35" font-size="4.9" text-anchor="end" font-weight="normal" fill="#222" stroke="#222" stroke-width="0.2" >0</text>
<line x1="278.70" y1="357.97" x2="280.50" y2="357.97" stroke="#8a8a8a" stroke-width="1"/>
<text x="276.90" y="359.72" font-size="4.9" text-anchor="end" font-weight="normal" fill="#222" stroke="#222" stroke-width="0.2" >20</text>
<line x1="278.70" y1="341.33" x2="280.50" y2="341.33" stroke="#8a8a8a" stroke-width="1"/>
<text x="276.90" y="343.08" font-size="4.9" text-anchor="end" font-weight="normal" fill="#222" stroke="#222" stroke-width="0.2" >40</text>
<line x1="278.70" y1="324.70" x2="280.50" y2="324.70" stroke="#8a8a8a" stroke-width="1"/>
<text x="276.90" y="326.45" font-size="4.9" text-anchor="end" font-weight="normal" fill="#222" stroke="#222" stroke-width="0.2" >60</text>
<line x1="278.70" y1="308.07" x2="280.50" y2="308.07" stroke="#8a8a8a" stroke-width="1"/>
<text x="276.90" y="309.82" font-size="4.9" text-anchor="end" font-weight="normal" fill="#222" stroke="#222" stroke-width="0.2" >80</text>
<line x1="278.70" y1="291.43" x2="280.50" y2="291.43" stroke="#8a8a8a" stroke-width="1"/>
<text x="276.90" y="293.18" font-size="4.9" text-anchor="end" font-weight="normal" fill="#222" stroke="#222" stroke-width="0.2" >100</text>
<line x1="278.70" y1="274.80" x2="280.50" y2="274.80" stroke="#8a8a8a" stroke-width="1"/>
<text x="276.90" y="276.55" font-size="4.9" text-anchor="end" font-weight="normal" fill="#222" stroke="#222" stroke-width="0.2" >120</text>
<line x1="314.77" y1="374.50" x2="314.77" y2="376.50" stroke="#8a8a8a" stroke-width="1"/>
<line x1="349.43" y1="374.50" x2="349.43" y2="376.50" stroke="#8a8a8a" stroke-width="1"/>
<line x1="384.90" y1="374.50" x2="384.90" y2="376.30" stroke="#8a8a8a" stroke-width="1"/>
<text x="297.93" y="385.10" font-size="5.0" text-anchor="middle" font-weight="normal" fill="#222" stroke="#222" stroke-width="0.2" >0 h</text>
<rect x="285.47" y="371.36" width="7.97" height="3.24" fill="#000"/>
<rect x="293.45" y="370.44" width="7.97" height="4.16" fill="#bbbbbb"/>
<rect x="301.42" y="372.11" width="7.97" height="2.50" fill="#fff"/>
<path d="M293.45,374.60V370.44H301.42V374.60" fill="none" stroke="#6a6a6a" stroke-width="0.85"/>
<path d="M301.42,374.60V372.11H309.39V374.60" fill="none" stroke="#333" stroke-width="0.85"/>
<text x="332.60" y="385.10" font-size="5.0" text-anchor="middle" font-weight="normal" fill="#222" stroke="#222" stroke-width="0.2" >48 h</text>
<rect x="320.14" y="347.40" width="7.97" height="27.20" fill="#000"/>
<rect x="328.11" y="347.40" width="7.97" height="27.20" fill="#bbbbbb"/>
<rect x="336.09" y="361.71" width="7.97" height="12.89" fill="#fff"/>
<path d="M328.11,374.60V347.40H336.09V374.60" fill="none" stroke="#6a6a6a" stroke-width="0.85"/>
<path d="M336.09,374.60V361.71H344.06V374.60" fill="none" stroke="#333" stroke-width="0.85"/>
<text x="367.27" y="385.10" font-size="5.0" text-anchor="middle" font-weight="normal" fill="#222" stroke="#222" stroke-width="0.2" >72 h</text>
<rect x="354.81" y="291.60" width="7.97" height="83.00" fill="#000"/>
<rect x="362.78" y="293.26" width="7.97" height="81.34" fill="#bbbbbb"/>
<rect x="370.75" y="340.58" width="7.97" height="34.02" fill="#fff"/>
<path d="M362.78,374.60V293.26H370.75V374.60" fill="none" stroke="#6a6a6a" stroke-width="0.85"/>
<path d="M370.75,374.60V340.58H378.73V374.60" fill="none" stroke="#333" stroke-width="0.85"/>
<line x1="358.79" y1="290.19" x2="358.79" y2="291.60" stroke="#000" stroke-width="0.8"/>
<line x1="357.49" y1="290.19" x2="360.09" y2="290.19" stroke="#000" stroke-width="0.8"/>
<line x1="366.77" y1="291.43" x2="366.77" y2="295.01" stroke="#000" stroke-width="0.8"/>
<line x1="365.47" y1="291.43" x2="368.07" y2="291.43" stroke="#000" stroke-width="0.8"/>
<line x1="365.47" y1="295.01" x2="368.07" y2="295.01" stroke="#000" stroke-width="0.8"/>
<line x1="374.74" y1="338.67" x2="374.74" y2="342.58" stroke="#000" stroke-width="0.8"/>
<line x1="373.44" y1="338.67" x2="376.04" y2="338.67" stroke="#000" stroke-width="0.8"/>
<line x1="373.44" y1="342.58" x2="376.04" y2="342.58" stroke="#000" stroke-width="0.8"/>
<line x1="413.50" y1="273.60" x2="413.50" y2="374.50" stroke="#8a8a8a" stroke-width="1"/>
<line x1="413.50" y1="374.50" x2="508.50" y2="374.50" stroke="#8a8a8a" stroke-width="1"/>
<line x1="411.70" y1="374.50" x2="413.50" y2="374.50" stroke="#8a8a8a" stroke-width="1"/>
<text x="409.70" y="376.25" font-size="4.9" text-anchor="end" font-weight="normal" fill="#222" stroke="#222" stroke-width="0.2" >0</text>
<line x1="411.70" y1="360.16" x2="413.50" y2="360.16" stroke="#8a8a8a" stroke-width="1"/>
<text x="409.70" y="361.91" font-size="4.9" text-anchor="end" font-weight="normal" fill="#222" stroke="#222" stroke-width="0.2" >25000</text>
<line x1="411.70" y1="345.81" x2="413.50" y2="345.81" stroke="#8a8a8a" stroke-width="1"/>
<text x="409.70" y="347.56" font-size="4.9" text-anchor="end" font-weight="normal" fill="#222" stroke="#222" stroke-width="0.2" >50000</text>
<line x1="411.70" y1="331.47" x2="413.50" y2="331.47" stroke="#8a8a8a" stroke-width="1"/>
<text x="409.70" y="333.22" font-size="4.9" text-anchor="end" font-weight="normal" fill="#222" stroke="#222" stroke-width="0.2" >75000</text>
<line x1="411.70" y1="317.13" x2="413.50" y2="317.13" stroke="#8a8a8a" stroke-width="1"/>
<text x="409.70" y="318.88" font-size="4.9" text-anchor="end" font-weight="normal" fill="#222" stroke="#222" stroke-width="0.2" >100000</text>
<line x1="411.70" y1="302.79" x2="413.50" y2="302.79" stroke="#8a8a8a" stroke-width="1"/>
<text x="409.70" y="304.54" font-size="4.9" text-anchor="end" font-weight="normal" fill="#222" stroke="#222" stroke-width="0.2" >125000</text>
<line x1="411.70" y1="288.44" x2="413.50" y2="288.44" stroke="#8a8a8a" stroke-width="1"/>
<text x="409.70" y="290.19" font-size="4.9" text-anchor="end" font-weight="normal" fill="#222" stroke="#222" stroke-width="0.2" >150000</text>
<line x1="411.70" y1="274.10" x2="413.50" y2="274.10" stroke="#8a8a8a" stroke-width="1"/>
<text x="409.70" y="275.85" font-size="4.9" text-anchor="end" font-weight="normal" fill="#222" stroke="#222" stroke-width="0.2" >175000</text>
<line x1="444.53" y1="374.50" x2="444.53" y2="376.50" stroke="#8a8a8a" stroke-width="1"/>
<line x1="476.17" y1="374.50" x2="476.17" y2="376.50" stroke="#8a8a8a" stroke-width="1"/>
<line x1="508.00" y1="374.50" x2="508.00" y2="376.30" stroke="#8a8a8a" stroke-width="1"/>
<text x="429.22" y="385.10" font-size="5.0" text-anchor="middle" font-weight="normal" fill="#222" stroke="#222" stroke-width="0.2" >0 h</text>
<rect x="417.80" y="373.75" width="7.28" height="0.75" fill="#000"/>
<rect x="425.08" y="373.87" width="7.28" height="0.63" fill="#bbbbbb"/>
<rect x="432.35" y="373.93" width="7.28" height="0.57" fill="#fff"/>
<path d="M425.08,374.50V373.87H432.35V374.50" fill="none" stroke="#6a6a6a" stroke-width="0.85"/>
<path d="M432.35,374.50V373.93H439.63V374.50" fill="none" stroke="#333" stroke-width="0.85"/>
<text x="460.85" y="385.10" font-size="5.0" text-anchor="middle" font-weight="normal" fill="#222" stroke="#222" stroke-width="0.2" >48 h</text>
<rect x="449.44" y="343.00" width="7.28" height="31.50" fill="#000"/>
<rect x="456.71" y="343.52" width="7.28" height="30.98" fill="#bbbbbb"/>
<rect x="463.99" y="353.04" width="7.28" height="21.46" fill="#fff"/>
<path d="M456.71,374.50V343.52H463.99V374.50" fill="none" stroke="#6a6a6a" stroke-width="0.85"/>
<path d="M463.99,374.50V353.04H471.26V374.50" fill="none" stroke="#333" stroke-width="0.85"/>
<line x1="453.07" y1="339.99" x2="453.07" y2="343.00" stroke="#000" stroke-width="0.8"/>
<line x1="451.77" y1="339.99" x2="454.37" y2="339.99" stroke="#000" stroke-width="0.8"/>
<line x1="467.63" y1="350.86" x2="467.63" y2="354.99" stroke="#000" stroke-width="0.8"/>
<line x1="466.33" y1="350.86" x2="468.93" y2="350.86" stroke="#000" stroke-width="0.8"/>
<line x1="466.33" y1="354.99" x2="468.93" y2="354.99" stroke="#000" stroke-width="0.8"/>
<text x="492.48" y="385.10" font-size="5.0" text-anchor="middle" font-weight="normal" fill="#222" stroke="#222" stroke-width="0.2" >72 h</text>
<rect x="481.07" y="280.12" width="7.28" height="94.38" fill="#000"/>
<rect x="488.35" y="285.00" width="7.28" height="89.50" fill="#bbbbbb"/>
<rect x="495.62" y="326.37" width="7.28" height="48.13" fill="#fff"/>
<path d="M488.35,374.50V285.00H495.62V374.50" fill="none" stroke="#6a6a6a" stroke-width="0.85"/>
<path d="M495.62,374.50V326.37H502.90V374.50" fill="none" stroke="#333" stroke-width="0.85"/>
<line x1="484.71" y1="279.03" x2="484.71" y2="280.12" stroke="#000" stroke-width="0.8"/>
<line x1="483.41" y1="279.03" x2="486.01" y2="279.03" stroke="#000" stroke-width="0.8"/>
<line x1="499.26" y1="325.28" x2="499.26" y2="327.74" stroke="#000" stroke-width="0.8"/>
<line x1="497.96" y1="325.28" x2="500.56" y2="325.28" stroke="#000" stroke-width="0.8"/>
<line x1="497.96" y1="327.74" x2="500.56" y2="327.74" stroke="#000" stroke-width="0.8"/>
<line x1="321.50" y1="11.30" x2="321.50" y2="118.50" stroke="#8a8a8a" stroke-width="1"/>
<line x1="321.50" y1="118.50" x2="471.20" y2="118.50" stroke="#8a8a8a" stroke-width="1"/>
<line x1="319.70" y1="118.20" x2="321.50" y2="118.20" stroke="#8a8a8a" stroke-width="1"/>
<text x="317.20" y="119.95" font-size="5.2" text-anchor="end" font-weight="normal" fill="#222" stroke="#222" stroke-width="0.2" >0</text>
<line x1="319.70" y1="100.47" x2="321.50" y2="100.47" stroke="#8a8a8a" stroke-width="1"/>
<text x="317.20" y="102.22" font-size="5.2" text-anchor="end" font-weight="normal" fill="#222" stroke="#222" stroke-width="0.2" >50</text>
<line x1="319.70" y1="82.73" x2="321.50" y2="82.73" stroke="#8a8a8a" stroke-width="1"/>
<text x="317.20" y="84.48" font-size="5.2" text-anchor="end" font-weight="normal" fill="#222" stroke="#222" stroke-width="0.2" >100</text>
<line x1="319.70" y1="65.00" x2="321.50" y2="65.00" stroke="#8a8a8a" stroke-width="1"/>
<text x="317.20" y="66.75" font-size="5.2" text-anchor="end" font-weight="normal" fill="#222" stroke="#222" stroke-width="0.2" >150</text>
<line x1="319.70" y1="47.27" x2="321.50" y2="47.27" stroke="#8a8a8a" stroke-width="1"/>
<text x="317.20" y="49.02" font-size="5.2" text-anchor="end" font-weight="normal" fill="#222" stroke="#222" stroke-width="0.2" >200</text>
<line x1="319.70" y1="29.53" x2="321.50" y2="29.53" stroke="#8a8a8a" stroke-width="1"/>
<text x="317.20" y="31.28" font-size="5.2" text-anchor="end" font-weight="normal" fill="#222" stroke="#222" stroke-width="0.2" >250</text>
<line x1="319.70" y1="11.80" x2="321.50" y2="11.80" stroke="#8a8a8a" stroke-width="1"/>
<text x="317.20" y="13.55" font-size="5.2" text-anchor="end" font-weight="normal" fill="#222" stroke="#222" stroke-width="0.2" >300</text>
<line x1="371.20" y1="118.50" x2="371.20" y2="120.50" stroke="#8a8a8a" stroke-width="1"/>
<line x1="421.20" y1="118.50" x2="421.20" y2="120.50" stroke="#8a8a8a" stroke-width="1"/>
<line x1="470.70" y1="118.50" x2="470.70" y2="120.30" stroke="#8a8a8a" stroke-width="1"/>
<text x="346.70" y="128.60" font-size="5.6" text-anchor="middle" font-weight="normal" fill="#222" stroke="#222" stroke-width="0.2" >0 h</text>
<rect x="328.95" y="102.49" width="11.50" height="15.71" fill="#000"/>
<rect x="340.45" y="101.11" width="11.50" height="17.09" fill="#bbbbbb"/>
<rect x="351.95" y="105.15" width="11.50" height="13.05" fill="#fff"/>
<path d="M340.45,118.20V101.11H351.95V118.20" fill="none" stroke="#6a6a6a" stroke-width="0.85"/>
<path d="M351.95,118.20V105.15H363.45V118.20" fill="none" stroke="#333" stroke-width="0.85"/>
<line x1="334.70" y1="95.57" x2="334.70" y2="102.49" stroke="#444" stroke-width="0.85"/>
<line x1="333.40" y1="95.57" x2="336.00" y2="95.57" stroke="#444" stroke-width="0.8"/>
<line x1="346.20" y1="95.36" x2="346.20" y2="107.70" stroke="#444" stroke-width="0.85"/>
<line x1="344.90" y1="95.36" x2="347.50" y2="95.36" stroke="#444" stroke-width="0.8"/>
<line x1="344.90" y1="107.70" x2="347.50" y2="107.70" stroke="#444" stroke-width="0.8"/>
<line x1="357.70" y1="99.62" x2="357.70" y2="112.31" stroke="#444" stroke-width="0.85"/>
<line x1="356.40" y1="99.62" x2="359.00" y2="99.62" stroke="#444" stroke-width="0.8"/>
<line x1="356.40" y1="112.31" x2="359.00" y2="112.31" stroke="#444" stroke-width="0.8"/>
<text x="396.70" y="128.60" font-size="5.6" text-anchor="middle" font-weight="normal" fill="#222" stroke="#222" stroke-width="0.2" >48 h</text>
<rect x="378.95" y="70.11" width="11.50" height="48.09" fill="#000"/>
<rect x="390.45" y="69.26" width="11.50" height="48.94" fill="#bbbbbb"/>
<rect x="401.95" y="76.35" width="11.50" height="41.85" fill="#fff"/>
<path d="M390.45,118.20V69.26H401.95V118.20" fill="none" stroke="#6a6a6a" stroke-width="0.85"/>
<path d="M401.95,118.20V76.35H413.45V118.20" fill="none" stroke="#333" stroke-width="0.85"/>
<line x1="384.70" y1="54.71" x2="384.70" y2="70.11" stroke="#444" stroke-width="0.85"/>
<line x1="383.40" y1="54.71" x2="386.00" y2="54.71" stroke="#444" stroke-width="0.8"/>
<line x1="396.20" y1="52.94" x2="396.20" y2="84.61" stroke="#444" stroke-width="0.85"/>
<line x1="394.90" y1="52.94" x2="397.50" y2="52.94" stroke="#444" stroke-width="0.8"/>
<line x1="394.90" y1="84.61" x2="397.50" y2="84.61" stroke="#444" stroke-width="0.8"/>
<line x1="407.70" y1="62.52" x2="407.70" y2="90.18" stroke="#444" stroke-width="0.85"/>
<line x1="406.40" y1="62.52" x2="409.00" y2="62.52" stroke="#444" stroke-width="0.8"/>
<line x1="406.40" y1="90.18" x2="409.00" y2="90.18" stroke="#444" stroke-width="0.8"/>
<text x="446.70" y="128.60" font-size="5.6" text-anchor="middle" font-weight="normal" fill="#222" stroke="#222" stroke-width="0.2" >72 h</text>
<rect x="428.95" y="48.69" width="11.50" height="69.51" fill="#000"/>
<rect x="440.45" y="42.90" width="11.50" height="75.30" fill="#bbbbbb"/>
<rect x="451.95" y="64.40" width="11.50" height="53.80" fill="#fff"/>
<path d="M440.45,118.20V42.90H451.95V118.20" fill="none" stroke="#6a6a6a" stroke-width="0.85"/>
<path d="M451.95,118.20V64.40H463.45V118.20" fill="none" stroke="#333" stroke-width="0.85"/>
<line x1="434.70" y1="31.52" x2="434.70" y2="48.69" stroke="#444" stroke-width="0.85"/>
<line x1="433.40" y1="31.52" x2="436.00" y2="31.52" stroke="#444" stroke-width="0.8"/>
<line x1="446.20" y1="24.21" x2="446.20" y2="62.52" stroke="#444" stroke-width="0.85"/>
<line x1="444.90" y1="24.21" x2="447.50" y2="24.21" stroke="#444" stroke-width="0.8"/>
<line x1="444.90" y1="62.52" x2="447.50" y2="62.52" stroke="#444" stroke-width="0.8"/>
<line x1="457.70" y1="55.42" x2="457.70" y2="74.58" stroke="#444" stroke-width="0.85"/>
<line x1="456.40" y1="55.42" x2="459.00" y2="55.42" stroke="#444" stroke-width="0.8"/>
<line x1="456.40" y1="74.58" x2="459.00" y2="74.58" stroke="#444" stroke-width="0.8"/>
<text transform="translate(302.40,66.30) rotate(-90)" x="0" y="0" font-size="7.3" text-anchor="middle" font-weight="bold" fill="#111" stroke="#111" stroke-width="0.05" textLength="76.4" lengthAdjust="spacingAndGlyphs">PMN cells/view of area</text>
<text transform="translate(26.80,200.70) rotate(-90)" x="0" y="0" font-size="7.9" text-anchor="middle" font-weight="bold" fill="#111" stroke="#111" stroke-width="0.05" textLength="78.6" lengthAdjust="spacingAndGlyphs">Normalized mRNA level</text>
<text transform="translate(25.90,329.55) rotate(-90)" x="0" y="0" font-size="7.6" text-anchor="middle" font-weight="bold" fill="#111" stroke="#111" stroke-width="0.05" textLength="93.8" lengthAdjust="spacingAndGlyphs">CC chemokine level (pg/mL)</text>
<polyline points="434.0,21.6 434.0,7.8 456.7,7.8 456.7,30.8" fill="none" stroke="#222" stroke-width="1"/>
<polygon points="445.50,1.10 446.03,2.47 447.50,2.55 446.36,3.48 446.73,4.90 445.50,4.10 444.27,4.90 444.64,3.48 443.50,2.55 444.97,2.47" fill="#000"/>
<rect x="157.00" y="396.20" width="11.80" height="4.50" fill="#000"/>
<rect x="231.60" y="396.60" width="11.40" height="4.00" fill="#b8b8b8" stroke="#333" stroke-width="0.9"/>
<rect x="318.40" y="396.60" width="11.80" height="4.00" fill="#fff" stroke="#333" stroke-width="0.9"/>
<text x="176.00" y="401.00" font-size="6.9" text-anchor="start" font-weight="normal" fill="#111" stroke="#111" stroke-width="0.2" >Control NB4</text>
<text x="249.50" y="401.00" font-size="6.9" text-anchor="start" font-weight="normal" fill="#111" stroke="#111" stroke-width="0.2" >Virus control NB4</text>
<text x="337.60" y="401.00" font-size="6.9" text-anchor="start" font-weight="normal" fill="#111" stroke="#111" stroke-width="0.2" >TG2 knockdown NB4</text>
</g>
</svg>
</div></body></html>
